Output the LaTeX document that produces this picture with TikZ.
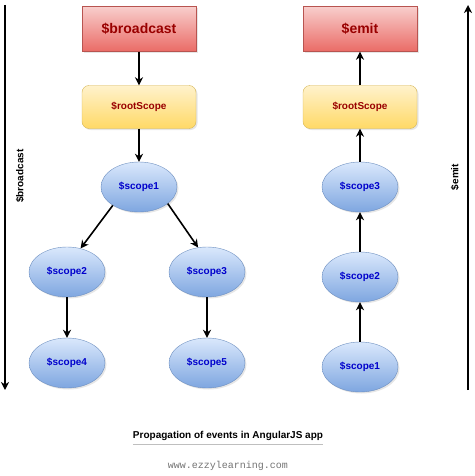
\documentclass[tikz,border=0pt]{standalone}
\usepackage{fontspec}
\setmainfont{Liberation Sans}
\setmonofont{Liberation Mono}
\usetikzlibrary{shapes.geometric,arrows.meta,shadows}

\definecolor{redtop}{HTML}{F8CECC}
\definecolor{redbot}{HTML}{EA6B66}
\definecolor{redline}{HTML}{B85450}
\definecolor{yeltop}{HTML}{FFF2CC}
\definecolor{yelbot}{HTML}{FFD966}
\definecolor{yelline}{HTML}{D6B656}
\definecolor{blutop}{HTML}{DAE8FC}
\definecolor{blubot}{HTML}{7EA6E0}
\definecolor{bluline}{HTML}{6C8EBF}
\definecolor{eventtext}{HTML}{990000}
\definecolor{scopetext}{HTML}{0000CC}

\tikzset{
  shade/.style={drop shadow={opacity=0.2,shadow xshift=1.5pt,shadow yshift=-1.5pt}},
  eventbox/.style={draw=redline, top color=redtop, bottom color=redbot, shade,
    minimum width=114pt, minimum height=45pt, text=eventtext,
    font=\bfseries\fontsize{14}{16}\selectfont},
  rootbox/.style={draw=yelline, top color=yeltop, bottom color=yelbot, shade,
    rounded corners=7pt, minimum width=114pt, minimum height=43pt, text=eventtext,
    font=\bfseries\fontsize{10}{12}\selectfont},
  scopenode/.style={ellipse, draw=bluline, top color=blutop, bottom color=blubot, shade,
    minimum width=76pt, minimum height=50pt, inner sep=0pt, text=scopetext,
    font=\bfseries\fontsize{10}{12}\selectfont},
  flow/.style={-{Stealth[length=8pt,width=8pt,inset=2.5pt]}, line width=1.6pt},
  sidelabel/.style={rotate=90, font=\bfseries\fontsize{10}{12}\selectfont}
}

\begin{document}
\begin{tikzpicture}[x=1pt,y=-1pt]
  \useasboundingbox (0,0) rectangle (474,476);
  % broadcast side
  \node[eventbox] (bcast) at (139,29) {\$broadcast};
  \node[rootbox] (lroot) at (139,107) {\$rootScope};
  \node[scopenode] (l1) at (139,187) {\$scope1};
  \node[scopenode] (l2) at (67,272) {\$scope2};
  \node[scopenode] (l3) at (207,272) {\$scope3};
  \node[scopenode] (l4) at (67,363) {\$scope4};
  \node[scopenode] (l5) at (207,363) {\$scope5};
  \draw[flow] (bcast) -- (lroot);
  \draw[flow] (lroot) -- (l1);
  \draw[flow] (l1.215) -- (l2.60);
  \draw[flow] (l1.330) -- (l3.110);
  \draw[flow] (l2) -- (l4);
  \draw[flow] (l3) -- (l5);
  % emit side
  \node[eventbox] (emit) at (360,29) {\$emit};
  \node[rootbox] (rroot) at (360,107) {\$rootScope};
  \node[scopenode] (r3) at (360,187) {\$scope3};
  \node[scopenode] (r2) at (360,277) {\$scope2};
  \node[scopenode] (r1) at (360,367) {\$scope1};
  \draw[flow] (rroot) -- (emit);
  \foreach \a/\b in {r3/rroot, r2/r3, r1/r2}
    \draw[flow] (\a) -- (\b);
  % direction arrows
  \coordinate (btop) at (5,5);
  \coordinate (bbot) at (5,390);
  \draw[flow] (btop) -- (bbot);
  \node[sidelabel] (blabel) at (20,176) {\$broadcast};
  \coordinate (etop) at (468,5);
  \coordinate (ebot) at (468,390);
  \draw[flow] (ebot) -- (etop);
  \node[sidelabel] (elabel) at (455,177) {\$emit};
  % caption
  \node[font=\bfseries\fontsize{10}{12}\selectfont, inner sep=0pt] (caption) at (228,436)
    {Propagation of events in AngularJS app};
  \draw[black!25, line width=0.8pt] ([yshift=-4pt]caption.south west) -- ([yshift=-4pt]caption.south east);
  \node[font=\ttfamily\fontsize{10}{12}\selectfont, text=black!55] (site) at (228,466) {www.ezzylearning.com};
\end{tikzpicture}
\end{document}
